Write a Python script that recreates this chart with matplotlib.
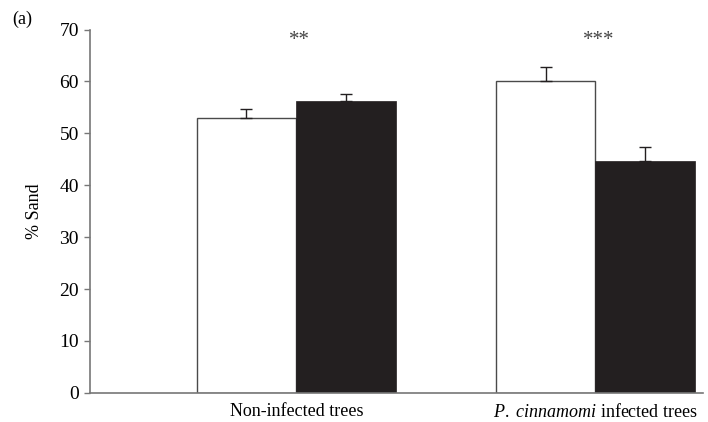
import numpy as np
import matplotlib.pyplot as plt

plt.rcParams['font.family'] = ['Liberation Serif', 'DejaVu Serif']
plt.rcParams['mathtext.fontset'] = 'custom'
plt.rcParams['mathtext.rm'] = 'Liberation Serif'
plt.rcParams['mathtext.it'] = 'Liberation Serif:italic'

groups = ["Non-infected trees", r"$\it{P.\ cinnamomi}$ infected trees"]
open_vals = [53.0, 60.0]
open_err = [1.6, 2.8]
filled_vals = [56.3, 44.7]
filled_err = [1.3, 2.6]
stars = ["**", "***"]

centers = np.array([2.0, 5.0])
w = 1.0

fig = plt.figure(figsize=(7.08, 4.22), dpi=100)
ax = fig.add_axes([0.127, 0.069, 0.866, 0.861])

ax.bar(centers - w / 2, open_vals, w, color="white", edgecolor="#4a4a4a",
       linewidth=1.0, zorder=2)
ax.bar(centers + w / 2, filled_vals, w, color="#231f20", edgecolor="#231f20",
       linewidth=0.5, zorder=2)
ax.errorbar(centers - w / 2, open_vals, yerr=[np.zeros(2), open_err], fmt="none",
            ecolor="#231f20", elinewidth=1.0, capsize=4, capthick=1.0, zorder=3)
ax.errorbar(centers + w / 2, filled_vals, yerr=[np.zeros(2), filled_err], fmt="none",
            ecolor="#231f20", elinewidth=1.0, capsize=4, capthick=1.0, zorder=3)

for c, s in zip(centers, stars):
    ax.text(c + 0.03, 67.9, s, ha="center", va="center", fontsize=15, color="#444444")

ax.set_xlim(-0.07, 6.08)
ax.set_ylim(0, 70)
ax.set_yticks(np.arange(0, 71, 10))
ax.set_xticks(centers)
ax.set_xticklabels(groups)
ax.tick_params(axis="x", length=0, pad=7, labelsize=13)
ax.tick_params(axis="y", length=4, width=1, color="#777777", labelsize=14, pad=4)

for side in ["top", "right"]:
    ax.spines[side].set_visible(False)
for side in ["left", "bottom"]:
    ax.spines[side].set_color("#777777")
    ax.spines[side].set_linewidth(1.2)

ax.set_ylabel("% Sand", fontsize=13, labelpad=12)
fig.text(0.017, 0.975, "(a)", fontsize=13, va="top", ha="left")

fig.savefig("out.png", dpi=100)
